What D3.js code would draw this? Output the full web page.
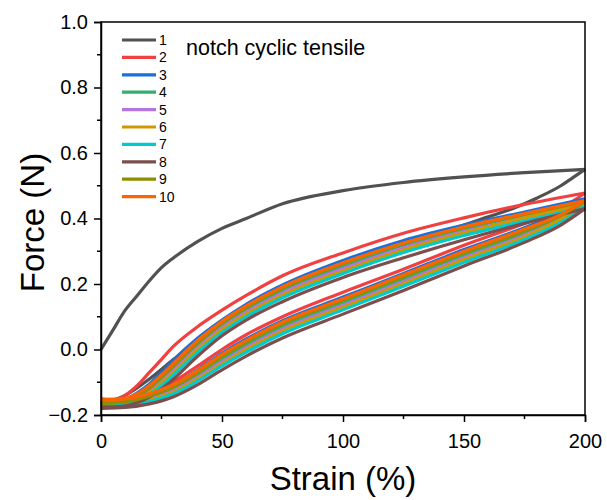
<!DOCTYPE html>
<html>
<head>
<meta charset="utf-8">
<script src="https://cdn.jsdelivr.net/npm/d3@7"></script>
<style>
  body { margin: 0; background: #fff; }
  svg text { font-family: Arial, "Liberation Sans", sans-serif; fill: #000; }
</style>
</head>
<body>
<div id="app"></div>
<script>
// strain grids (%)
const loadStrain = [0, 5, 10, 15, 20, 25, 30, 40, 50, 60, 75, 100, 125, 150, 175, 200];
const unloadStrain = [0, 10, 20, 30, 40, 50, 60, 75, 100, 125, 150, 175, 190, 200];
const firstLoadStrain = [0, 5, 10, 15, 20, 25, 30, 40, 50, 60, 75, 100, 125, 150, 175, 200];
const firstUnloadStrain = [0, 10, 20, 30, 40, 50, 75, 100, 125, 140, 150, 160, 170, 180, 190, 195, 200];

const cycles = ['1', '2', '3', '4', '5', '6', '7', '8', '9', '10'];
const colors = ['#515151', '#F14040', '#1A6FDF', '#37AD6B', '#B177DE', '#CC9900', '#00CBCC', '#7D4E4E', '#8E8E00', '#FB6501'];

// force (N), loading branch of each cycle
const load1 = [0, 0.06, 0.12, 0.165, 0.21, 0.25, 0.28, 0.33, 0.37, 0.40, 0.445, 0.485, 0.51, 0.527, 0.54, 0.55];
const load2 = [-0.155, -0.155, -0.14, -0.11, -0.07, -0.03, 0.01, 0.07, 0.12, 0.165, 0.225, 0.295, 0.355, 0.402, 0.443, 0.478];
const load3 = [-0.16, -0.16, -0.152, -0.132, -0.105, -0.07, -0.032, 0.035, 0.09, 0.138, 0.197, 0.272, 0.333, 0.38, 0.42, 0.46];
const load4 = [-0.165, -0.165, -0.16, -0.145, -0.12, -0.09, -0.055, 0.015, 0.075, 0.123, 0.182, 0.257, 0.32, 0.368, 0.41, 0.45];
const load5 = [-0.168, -0.168, -0.163, -0.15, -0.128, -0.098, -0.063, 0.006, 0.066, 0.114, 0.173, 0.247, 0.31, 0.36, 0.402, 0.442];
const load6 = [-0.17, -0.17, -0.165, -0.153, -0.132, -0.103, -0.07, 0.0, 0.06, 0.108, 0.166, 0.24, 0.304, 0.356, 0.402, 0.445];
const load7 = [-0.172, -0.172, -0.168, -0.157, -0.137, -0.11, -0.078, -0.008, 0.052, 0.1, 0.158, 0.232, 0.296, 0.348, 0.392, 0.435];
const load8 = [-0.175, -0.175, -0.172, -0.162, -0.145, -0.12, -0.09, -0.02, 0.042, 0.09, 0.146, 0.22, 0.28, 0.335, 0.385, 0.43];
const load9 = [-0.16, -0.162, -0.157, -0.142, -0.118, -0.085, -0.05, 0.02, 0.08, 0.128, 0.187, 0.262, 0.324, 0.372, 0.413, 0.452];
const load10 = [-0.15, -0.155, -0.15, -0.135, -0.11, -0.078, -0.042, 0.028, 0.086, 0.133, 0.192, 0.265, 0.325, 0.375, 0.415, 0.455];

// force (N), unloading branch of each cycle
const unload1 = [-0.165, -0.14, -0.09, -0.03, 0.03, 0.08, 0.18, 0.255, 0.32, 0.35, 0.38, 0.405, 0.43, 0.462, 0.50, 0.525, 0.55];
const unload2 = [-0.16, -0.152, -0.132, -0.098, -0.05, 0.0, 0.045, 0.10, 0.175, 0.245, 0.318, 0.385, 0.43, 0.478];
const unload3 = [-0.168, -0.16, -0.14, -0.108, -0.062, -0.012, 0.032, 0.088, 0.16, 0.232, 0.305, 0.372, 0.418, 0.46];
const unload4 = [-0.17, -0.165, -0.148, -0.12, -0.078, -0.03, 0.014, 0.07, 0.143, 0.215, 0.288, 0.356, 0.405, 0.45];
const unload5 = [-0.172, -0.168, -0.152, -0.126, -0.085, -0.038, 0.006, 0.062, 0.135, 0.207, 0.28, 0.348, 0.398, 0.442];
const unload6 = [-0.174, -0.17, -0.155, -0.13, -0.09, -0.044, 0.0, 0.056, 0.129, 0.201, 0.275, 0.344, 0.398, 0.445];
const unload7 = [-0.176, -0.172, -0.159, -0.135, -0.096, -0.05, -0.008, 0.048, 0.121, 0.193, 0.266, 0.336, 0.388, 0.435];
const unload8 = [-0.18, -0.177, -0.166, -0.144, -0.107, -0.062, -0.02, 0.035, 0.108, 0.18, 0.255, 0.327, 0.38, 0.43];
const unload9 = [-0.165, -0.16, -0.143, -0.114, -0.071, -0.022, 0.022, 0.078, 0.15, 0.222, 0.295, 0.362, 0.41, 0.452];
const unload10 = [-0.152, -0.15, -0.135, -0.107, -0.064, -0.015, 0.028, 0.084, 0.155, 0.228, 0.3, 0.368, 0.412, 0.455];

const xTicks = [0, 50, 100, 150, 200];
const yTicks = [-0.2, 0.0, 0.2, 0.4, 0.6, 0.8, 1.0];

const loads = [load1, load2, load3, load4, load5, load6, load7, load8, load9, load10];
const unloads = [unload1, unload2, unload3, unload4, unload5, unload6, unload7, unload8, unload9, unload10];

const WIDTH = 607, HEIGHT = 500;
const margin = { left: 101, right: 22, top: 22, bottom: 85 };

const svg = d3.select('#app').append('svg')
  .attr('width', WIDTH)
  .attr('height', HEIGHT);

const x = d3.scaleLinear().domain([0, 200]).range([margin.left, WIDTH - margin.right]);
const y = d3.scaleLinear().domain([-0.2, 1.0]).range([HEIGHT - margin.bottom, margin.top]);

// curves
const line = d3.line()
  .x(d => x(d[0]))
  .y(d => y(d[1]))
  .curve(d3.curveMonotoneX);

const plot = svg.append('g');
cycles.forEach((c, i) => {
  const ls = i === 0 ? firstLoadStrain : loadStrain;
  const us = i === 0 ? firstUnloadStrain : unloadStrain;
  const loadPts = ls.map((s, j) => [s, loads[i][j]]);
  const unloadPts = us.map((s, j) => [s, unloads[i][j]]);
  plot.append('path')
    .attr('d', line(unloadPts))
    .attr('fill', 'none')
    .attr('stroke', colors[i])
    .attr('stroke-width', 3.2);
  plot.append('path')
    .attr('d', line(loadPts))
    .attr('fill', 'none')
    .attr('stroke', colors[i])
    .attr('stroke-width', 3.2);
});

// frame
svg.append('rect')
  .attr('x', x(0)).attr('y', y(1.0))
  .attr('width', x(200) - x(0)).attr('height', y(-0.2) - y(1.0))
  .attr('fill', 'none').attr('stroke', '#000').attr('stroke-width', 1.5);

// axes
const xAxis = svg.append('g')
  .attr('transform', `translate(0,${y(-0.2)})`)
  .call(d3.axisBottom(x).tickValues(xTicks).tickSize(7).tickPadding(12).tickFormat(d3.format('d')));
xAxis.append('g').selectAll('line')
  .data([25, 75, 125, 175])
  .enter().append('line')
  .attr('x1', d => x(d)).attr('x2', d => x(d))
  .attr('y1', 0).attr('y2', 4)
  .attr('stroke', '#000').attr('stroke-width', 1.5);

const yAxis = svg.append('g')
  .attr('transform', `translate(${x(0)},0)`)
  .call(d3.axisLeft(y).tickValues(yTicks).tickSize(7).tickPadding(6).tickFormat(d3.format('.1f')));
yAxis.append('g').selectAll('line')
  .data([-0.1, 0.1, 0.3, 0.5, 0.7, 0.9])
  .enter().append('line')
  .attr('y1', d => y(d)).attr('y2', d => y(d))
  .attr('x1', 0).attr('x2', -4)
  .attr('stroke', '#000').attr('stroke-width', 1.5);

[xAxis, yAxis].forEach(a => {
  a.select('.domain').attr('stroke-width', 1.5);
  a.selectAll('.tick line').attr('stroke-width', 1.5);
  a.selectAll('.tick text')
    .style('font-family', 'Arial, "Liberation Sans", sans-serif')
    .style('font-size', '20px');
});

// axis titles
svg.append('text')
  .attr('x', (x(0) + x(200)) / 2)
  .attr('y', 490)
  .attr('text-anchor', 'middle')
  .style('font-size', '33px')
  .text('Strain (%)');

svg.append('text')
  .attr('transform', `translate(44,${(y(-0.2) + y(1.0)) / 2 + 4}) rotate(-90)`)
  .attr('text-anchor', 'middle')
  .style('font-size', '33px')
  .text('Force (N)');

// legend
const legend = svg.append('g');
cycles.forEach((c, i) => {
  const ly = 40 + i * 17.4;
  legend.append('line')
    .attr('x1', 122).attr('x2', 156)
    .attr('y1', ly).attr('y2', ly)
    .attr('stroke', colors[i]).attr('stroke-width', 3.2);
  legend.append('text')
    .attr('x', 159).attr('y', ly + 5)
    .style('font-size', '14px')
    .text(c);
});

svg.append('text')
  .attr('x', 186).attr('y', 55)
  .style('font-size', '21.5px')
  .text('notch cyclic tensile');
</script>
</body>
</html>
